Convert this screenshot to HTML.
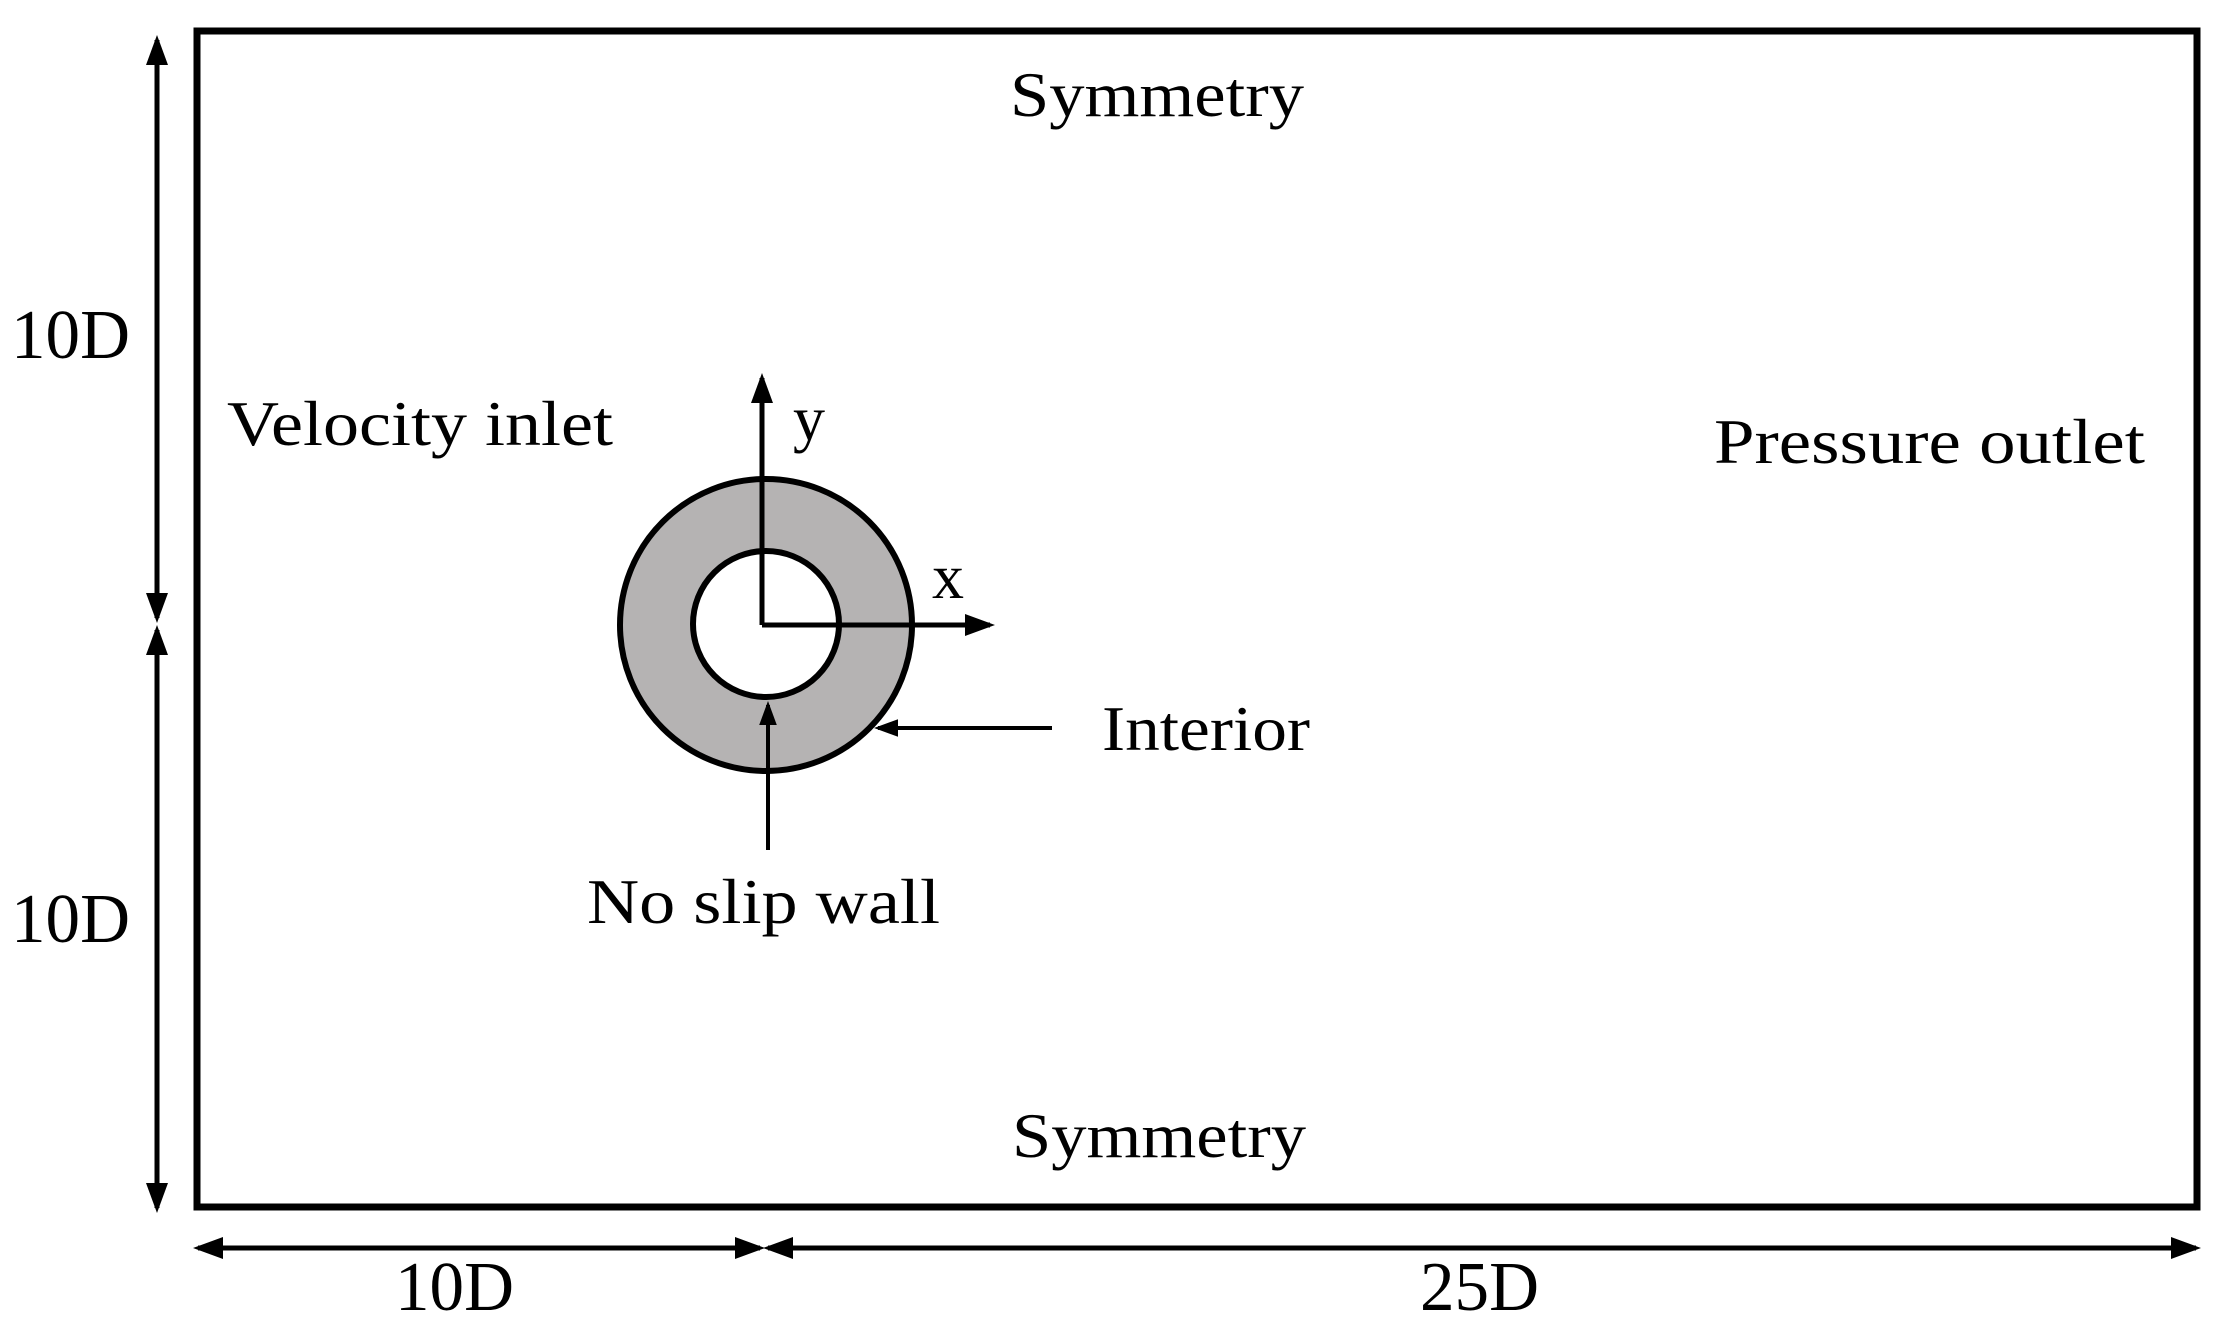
<!DOCTYPE html>
<html><head><meta charset="utf-8"><style>html,body{margin:0;padding:0;background:#fff}svg{display:block}</style></head>
<body>
<svg width="2227" height="1341" viewBox="0 0 2227 1341" xmlns="http://www.w3.org/2000/svg">
<defs>
<marker id="a" markerWidth="6" markerHeight="6" refX="5" refY="3" orient="auto-start-reverse" markerUnits="strokeWidth"><path d="M0,0.8 L6,3 L0,5.2 Z" fill="#000"/></marker>
</defs>
<rect x="197" y="31" width="2000" height="1176" fill="none" stroke="#000" stroke-width="7"/>
<circle cx="766" cy="625" r="146" fill="#b5b3b3" stroke="#000" stroke-width="6"/>
<circle cx="766" cy="624" r="73" fill="#fff" stroke="#000" stroke-width="6"/>
<line x1="762" y1="625" x2="762" y2="378" stroke="#000" stroke-width="5" marker-end="url(#a)"/>
<line x1="762" y1="625" x2="990" y2="625" stroke="#000" stroke-width="5" marker-end="url(#a)"/>
<line x1="1052" y1="728" x2="878" y2="728" stroke="#000" stroke-width="4" marker-end="url(#a)"/>
<line x1="768" y1="850" x2="768" y2="705" stroke="#000" stroke-width="4" marker-end="url(#a)"/>
<line x1="157" y1="40" x2="157" y2="618" stroke="#000" stroke-width="5" marker-start="url(#a)" marker-end="url(#a)"/>
<line x1="157" y1="630" x2="157" y2="1208" stroke="#000" stroke-width="5" marker-start="url(#a)" marker-end="url(#a)"/>
<line x1="198" y1="1248" x2="760" y2="1248" stroke="#000" stroke-width="5" marker-start="url(#a)" marker-end="url(#a)"/>
<line x1="768" y1="1248" x2="2196" y2="1248" stroke="#000" stroke-width="5" marker-start="url(#a)" marker-end="url(#a)"/>
<g font-family="'Liberation Serif', serif" font-size="64" fill="#000">
<text x="1010" y="116" textLength="294" lengthAdjust="spacingAndGlyphs">Symmetry</text>
<text x="1012" y="1157" textLength="294" lengthAdjust="spacingAndGlyphs">Symmetry</text>
<text x="227" y="445" textLength="386" lengthAdjust="spacingAndGlyphs">Velocity inlet</text>
<text x="1714" y="463" textLength="431" lengthAdjust="spacingAndGlyphs">Pressure outlet</text>
<text x="1102" y="750" textLength="208" lengthAdjust="spacingAndGlyphs">Interior</text>
<text x="587" y="923" textLength="353" lengthAdjust="spacingAndGlyphs">No slip wall</text>
<text x="793" y="440">y</text>
<text x="932" y="598">x</text>
<text x="11" y="358" font-size="70" textLength="119" lengthAdjust="spacingAndGlyphs">10D</text>
<text x="11" y="942" font-size="70" textLength="119" lengthAdjust="spacingAndGlyphs">10D</text>
<text x="395" y="1310" font-size="70" textLength="119" lengthAdjust="spacingAndGlyphs">10D</text>
<text x="1420" y="1310" font-size="70" textLength="119" lengthAdjust="spacingAndGlyphs">25D</text>
</g>
</svg>
</body></html>
